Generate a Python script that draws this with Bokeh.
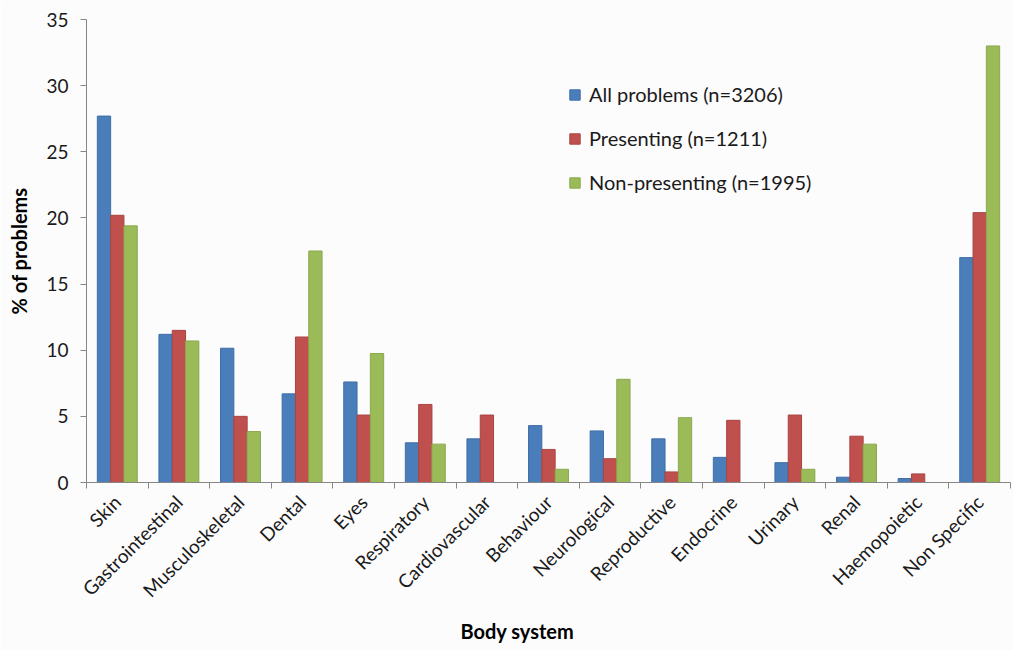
import numpy as np
from bokeh.plotting import figure
from bokeh.models import Range1d, FixedTicker, Legend, LegendItem, ColumnDataSource, Title
from bokeh.embed import file_html
from bokeh.resources import INLINE

categories = ["Skin", "Gastrointestinal", "Musculoskeletal", "Dental", "Eyes",
              "Respiratory", "Cardiovascular", "Behaviour", "Neurological",
              "Reproductive", "Endocrine", "Urinary", "Renal", "Haemopoietic",
              "Non Specific"]
all_problems = [27.7, 11.2, 10.15, 6.7, 7.6, 3.0, 3.3, 4.3, 3.9, 3.3, 1.9, 1.5, 0.4, 0.3, 17.0]
presenting = [20.2, 11.5, 5.0, 11.0, 5.1, 5.9, 5.1, 2.5, 1.8, 0.8, 4.7, 5.1, 3.5, 0.65, 20.4]
non_presenting = [19.4, 10.7, 3.85, 17.5, 9.75, 2.9, 0.0, 1.0, 7.8, 4.9, 0.0, 1.0, 2.9, 0.0, 33.0]
series_labels = ["All problems (n=3206)", "Presenting (n=1211)", "Non-presenting (n=1995)"]
y_ticks = [0, 5, 10, 15, 20, 25, 30, 35]
x_title = "Body system"
y_title = "% of problems"

FONT = "Lato"
colors = ["#4a7ebb", "#c0504d", "#9bbb59"]
edges = ["#3f6ea6", "#a84542", "#8aa84e"]

n = len(categories)
centers = np.arange(n) + 0.5

p = figure(width=1013, height=650, output_backend="svg", toolbar_location=None,
           x_range=Range1d(0, n), y_range=Range1d(0, 35),
           min_border_left=86, min_border_right=3, min_border_top=19,
           min_border_bottom=168, background_fill_color="#fcfcfd",
           border_fill_color="#fcfcfd", outline_line_color=None)
p.xgrid.grid_line_color = None
p.ygrid.grid_line_color = None

bw = 0.216
renderers = []
for k, vals in enumerate([all_problems, presenting, non_presenting]):
    src = ColumnDataSource(dict(x=centers + (k - 1) * bw, top=vals))
    r = p.vbar(x="x", top="top", width=bw, bottom=0, source=src,
               fill_color=colors[k], line_color=edges[k], line_width=1)
    renderers.append(r)

legend = Legend(items=[LegendItem(label=series_labels[i], renderers=[renderers[i]]) for i in range(3)],
                location=(482, 288), orientation="vertical",
                background_fill_alpha=0, border_line_color=None,
                label_text_font=FONT, label_text_font_size="20px", label_text_color="#1a1a1a",
                glyph_width=13, glyph_height=13, label_height=20, spacing=20,
                padding=10, label_standoff=8)
p.add_layout(legend)

# y axis
yax = p.yaxis[0]
yax.ticker = FixedTicker(ticks=y_ticks)
yax.axis_label = y_title
yax.axis_label_text_font = FONT
yax.axis_label_text_font_style = "bold"
yax.axis_label_text_font_size = "20px"
yax.axis_label_text_color = "#000000"
yax.axis_label_standoff = 12
yax.major_label_text_font = FONT
yax.major_label_text_font_size = "19px"
yax.major_label_text_color = "#1a1a1a"
yax.major_label_standoff = 12
yax.axis_line_color = "#868686"
yax.major_tick_line_color = "#868686"
yax.major_tick_out = 6
yax.major_tick_in = 0
yax.minor_tick_line_color = None

# x axis: labels at centers, ticks between categories (minor)
xax = p.xaxis[0]
xax.ticker = FixedTicker(ticks=list(centers), minor_ticks=list(range(n + 1)))
xax.major_label_overrides = {float(c): categories[i] for i, c in enumerate(centers)}
xax.major_label_orientation = np.deg2rad(45)
xax.major_label_text_font = FONT
xax.major_label_text_font_size = "19px"
xax.major_label_text_color = "#1a1a1a"
xax.major_label_standoff = 10
xax.major_tick_line_color = None
xax.major_tick_out = 0
xax.major_tick_in = 0
xax.minor_tick_line_color = "#868686"
xax.minor_tick_out = 6
xax.minor_tick_in = 0
xax.axis_line_color = "#868686"

# x-axis title, set slightly left of the frame centre as in the original
p.add_layout(Title(text=x_title, align="left", offset=374, standoff=8,
                   text_font=FONT, text_font_style="bold", text_font_size="20px",
                   text_color="#000000"), "below")

open("out.html", "w").write(file_html(p, INLINE))
